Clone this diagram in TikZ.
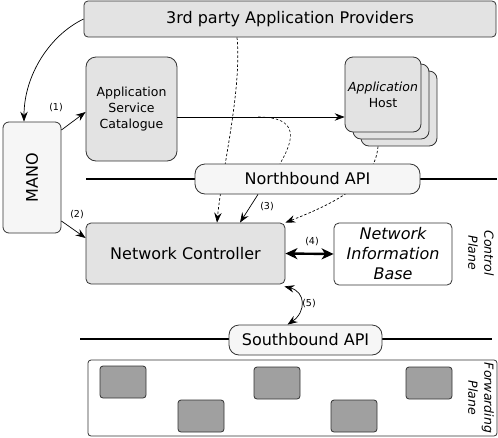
\documentclass[tikz,border=0pt]{standalone}
\usepackage{fontspec}
\setmainfont{DejaVu Sans}
\usetikzlibrary{arrows.meta,backgrounds}
\definecolor{boxgray}{HTML}{E3E3E3}
\definecolor{boxlight}{HTML}{F6F6F6}
\definecolor{darkfill}{HTML}{A0A0A0}
\definecolor{edge}{HTML}{333333}
\newcommand\fsbig{\fontsize{16}{20}\selectfont}
\newcommand\fsmid{\fontsize{12.5}{16}\selectfont}
\newcommand\fssmall{\fontsize{9.5}{11}\selectfont}
\begin{document}
\begin{tikzpicture}[x=1pt,y=-1pt,
  box/.style={draw=edge, line width=0.8pt, inner sep=0pt, align=center},
  arr/.style={-{Stealth[length=10pt,width=7.5pt,inset=3.5pt]}, line width=0.7pt},
  dsh/.style={dashed, dash pattern=on 2.5pt off 2pt, line width=0.6pt},
  bus/.style={line width=2.8pt},
  lbl/.style={font=\fssmall, inner sep=0pt}]
\useasboundingbox (0,0) rectangle (498,437);

% nodes
\node[box, fill=boxgray, rounded corners=4pt, minimum width=412pt, minimum height=36pt, font=\fsbig] (tp) at (290,19) {3rd party Application Providers};
\node[box, fill=boxgray, rounded corners=10pt, minimum width=91pt, minimum height=104pt, font=\fsmid] (asc) at (131.5,109) {Application\\Service\\Catalogue};
\node[box, fill=boxgray, rounded corners=8pt, minimum width=76pt, minimum height=75pt] (ah3) at (399,108.5) {};
\node[box, fill=boxgray, rounded corners=8pt, minimum width=76pt, minimum height=75pt] (ah2) at (391,101.5) {};
\node[box, fill=boxgray, rounded corners=8pt, minimum width=76pt, minimum height=75pt, font=\fsmid] (ah1) at (383,94.5) {\itshape Application\\Host};
\node[box, fill=boxlight, rounded corners=6pt, minimum width=58pt, minimum height=111pt, font=\fsbig] (mano) at (32,177.5) {\rotatebox{90}{MANO}};
\node[box, fill=boxlight, rounded corners=10pt, minimum width=225pt, minimum height=30pt, font=\fsbig] (nb) at (307.5,179) {Northbound API};
\node[box, fill=boxgray, rounded corners=5pt, minimum width=199pt, minimum height=61pt, font=\fsbig] (nc) at (185.5,253.5) {Network Controller};
\node[box, fill=white, rounded corners=5pt, minimum width=118pt, minimum height=62pt, font=\fsbig\itshape] (nib) at (393,254) {Network\\Information\\Base};
\node[inner sep=0pt, align=center, rotate=-90, font=\fsmid\itshape] (cp) at (481,253) {Control\\Plane};
\node[box, fill=boxlight, rounded corners=10pt, minimum width=153pt, minimum height=30pt, font=\fsbig] (sb) at (305.5,340) {Southbound API};
\node[box, fill=white, rounded corners=3pt, minimum width=409pt, minimum height=76pt] (fp) at (292.5,398) {};
\node[inner sep=0pt, align=center, rotate=-90, font=\fsmid\itshape] (fpl) at (481,398) {Forwarding\\Plane};
\foreach \n/\x/\y in {g1/123/382, g2/201/416, g3/277/383, g4/354/416, g5/429/383}
  \node[box, fill=darkfill, rounded corners=3pt, minimum width=46pt, minimum height=32pt] (\n) at (\x,\y) {};

% background: bus lines and dashed lines behind the API boxes
\begin{pgfonlayer}{background}
  \coordinate (nbl) at (86,179);
  \coordinate (nbr) at (497,179);
  \coordinate (sbl) at (80,339);
  \coordinate (sbr) at (492,339);
  \draw[bus] (nbl) -- (nbr);
  \draw[bus] (sbl) -- (sbr);
  \draw[dsh, arr] ([xshift=-53pt]tp.south) .. controls (242,90) and (222,170) .. ([xshift=31.5pt]nc.north);
  \coordinate (ds2) at (258,117);
  \draw[dsh] (ds2) .. controls (300,117) and (294,140) .. ([xshift=-27.5pt]nb.north);
  \draw[dsh, arr] ([xshift=-21pt]ah3.south) .. controls (375,185) and (330,205) .. (nc.north east);
\end{pgfonlayer}

% connectors
\draw[arr] (tp.west) .. controls (50,35) and (24,75) .. ([xshift=-8pt]mano.north);
\draw[arr] ([yshift=47.5pt]mano.east) -- ([yshift=-3pt]asc.west);
\draw[arr] ([yshift=-43.5pt]mano.east) -- ([yshift=15.5pt]nc.west);
\draw[arr] ([yshift=-8pt]asc.east) -- ([yshift=-8pt]asc.east -| ah1.west);
\draw[arr] ([xshift=-49.5pt]nb.south) -- ([xshift=54.5pt]nc.north);
\draw[{Stealth[length=12pt,width=11pt,inset=3.5pt]}-{Stealth[length=12pt,width=11pt,inset=3.5pt]}, line width=2.4pt] (nc.east) -- (nib.west);
\draw[{Stealth[length=10pt,width=7.5pt,inset=3.5pt]}-{Stealth[length=10pt,width=7.5pt,inset=3.5pt]}, line width=0.7pt] ([xshift=-1pt,yshift=-2pt]nc.south east) .. controls (306,292) and (306,312) .. ([xshift=-18pt]sb.north);

% labels
\node[lbl] (l1) at (56,108) {(1)};
\node[lbl] (l2) at (77,215) {(2)};
\node[lbl] (l3) at (267,207) {(3)};
\node[lbl] (l4) at (312,242) {(4)};
\node[lbl] (l5) at (309,304) {(5)};
\end{tikzpicture}
\end{document}
